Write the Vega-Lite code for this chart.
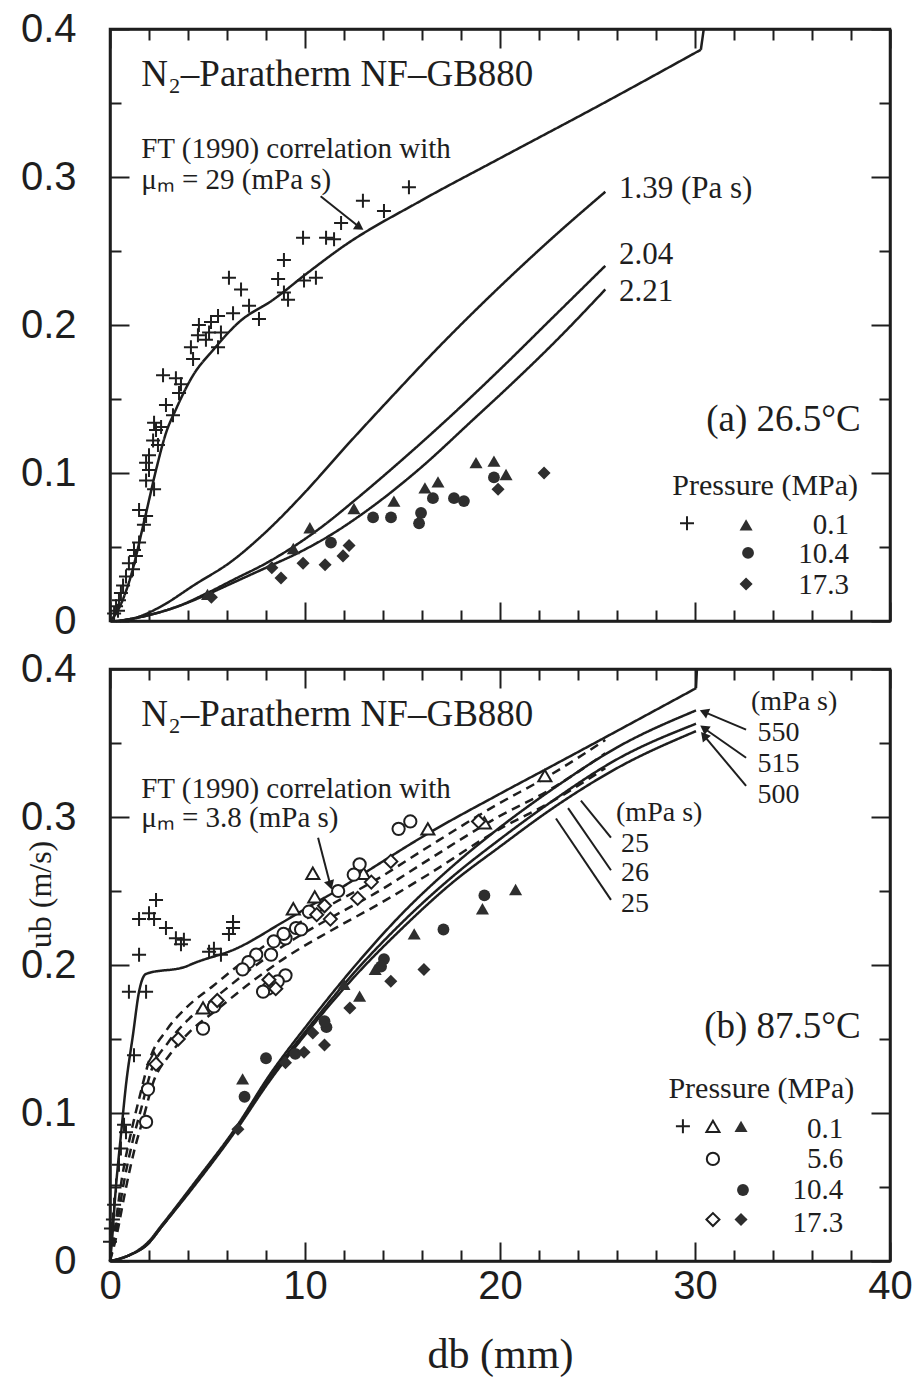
{
"$schema": "https://vega.github.io/schema/vega-lite/v6.json",
"background": "white",
"padding": {"left": 19, "top": 7, "right": 4, "bottom": 2},
"bounds": "flush",
"spacing": 48,
"config": {"view": {"stroke": "#1e1e1e", "strokeWidth": 2.5}, "axis": {"grid": false}},
"datasets": {
"curves": [
{"p":"a","c":"ft29","s":"solid","x":0,"y":0},{"p":"a","c":"ft29","s":"solid","x":0.31,"y":0.005},{"p":"a","c":"ft29","s":"solid","x":0.97,"y":0.026},{"p":"a","c":"ft29","s":"solid","x":1.85,"y":0.073},{"p":"a","c":"ft29","s":"solid","x":2.36,"y":0.102},{"p":"a","c":"ft29","s":"solid","x":2.87,"y":0.127},{"p":"a","c":"ft29","s":"solid","x":3.38,"y":0.143},{"p":"a","c":"ft29","s":"solid","x":4.26,"y":0.166},{"p":"a","c":"ft29","s":"solid","x":5.28,"y":0.183},{"p":"a","c":"ft29","s":"solid","x":6.62,"y":0.202},{"p":"a","c":"ft29","s":"solid","x":8.36,"y":0.217},{"p":"a","c":"ft29","s":"solid","x":10.21,"y":0.236},{"p":"a","c":"ft29","s":"solid","x":11.95,"y":0.253},{"p":"a","c":"ft29","s":"solid","x":15.95,"y":0.284},{"p":"a","c":"ft29","s":"solid","x":20.05,"y":0.313},{"p":"a","c":"ft29","s":"solid","x":25.18,"y":0.349},{"p":"a","c":"ft29","s":"solid","x":30.3,"y":0.386},
{"p":"a","c":"ft29v","s":"solid","x":30.3,"y":0.386},{"p":"a","c":"ft29v","s":"solid","x":30.45,"y":0.4},
{"p":"a","c":"v139","s":"solid","x":0.3,"y":0},{"p":"a","c":"v139","s":"solid","x":1.5,"y":0.003},{"p":"a","c":"v139","s":"solid","x":2.5,"y":0.009},{"p":"a","c":"v139","s":"solid","x":4.4,"y":0.025},{"p":"a","c":"v139","s":"solid","x":6.2,"y":0.04},{"p":"a","c":"v139","s":"solid","x":7.9,"y":0.059},{"p":"a","c":"v139","s":"solid","x":10,"y":0.087},{"p":"a","c":"v139","s":"solid","x":12.1,"y":0.118},{"p":"a","c":"v139","s":"solid","x":14.2,"y":0.148},{"p":"a","c":"v139","s":"solid","x":17,"y":0.187},{"p":"a","c":"v139","s":"solid","x":20,"y":0.226},{"p":"a","c":"v139","s":"solid","x":22.7,"y":0.259},{"p":"a","c":"v139","s":"solid","x":25.4,"y":0.29},
{"p":"a","c":"v204","s":"solid","x":0.5,"y":0},{"p":"a","c":"v204","s":"solid","x":2,"y":0.004},{"p":"a","c":"v204","s":"solid","x":3.5,"y":0.01},{"p":"a","c":"v204","s":"solid","x":5,"y":0.019},{"p":"a","c":"v204","s":"solid","x":6.5,"y":0.029},{"p":"a","c":"v204","s":"solid","x":8,"y":0.039},{"p":"a","c":"v204","s":"solid","x":9.5,"y":0.051},{"p":"a","c":"v204","s":"solid","x":11,"y":0.065},{"p":"a","c":"v204","s":"solid","x":12.5,"y":0.081},{"p":"a","c":"v204","s":"solid","x":14.9,"y":0.108},{"p":"a","c":"v204","s":"solid","x":17.6,"y":0.14},{"p":"a","c":"v204","s":"solid","x":20,"y":0.17},{"p":"a","c":"v204","s":"solid","x":22.7,"y":0.205},{"p":"a","c":"v204","s":"solid","x":25.4,"y":0.24},
{"p":"a","c":"v221","s":"solid","x":0.5,"y":0},{"p":"a","c":"v221","s":"solid","x":2,"y":0.004},{"p":"a","c":"v221","s":"solid","x":3.5,"y":0.01},{"p":"a","c":"v221","s":"solid","x":5,"y":0.018},{"p":"a","c":"v221","s":"solid","x":6.5,"y":0.027},{"p":"a","c":"v221","s":"solid","x":8,"y":0.036},{"p":"a","c":"v221","s":"solid","x":9.8,"y":0.047},{"p":"a","c":"v221","s":"solid","x":11.3,"y":0.058},{"p":"a","c":"v221","s":"solid","x":12.9,"y":0.072},{"p":"a","c":"v221","s":"solid","x":15.8,"y":0.102},{"p":"a","c":"v221","s":"solid","x":18.7,"y":0.137},{"p":"a","c":"v221","s":"solid","x":20.5,"y":0.159},{"p":"a","c":"v221","s":"solid","x":23,"y":0.191},{"p":"a","c":"v221","s":"solid","x":25.4,"y":0.224},
{"p":"b","c":"ft38","s":"solid","x":0,"y":0},{"p":"b","c":"ft38","s":"solid","x":0.05,"y":0.006},{"p":"b","c":"ft38","s":"solid","x":0.31,"y":0.051},{"p":"b","c":"ft38","s":"solid","x":0.56,"y":0.085},{"p":"b","c":"ft38","s":"solid","x":0.82,"y":0.119},{"p":"b","c":"ft38","s":"solid","x":1.18,"y":0.153},{"p":"b","c":"ft38","s":"solid","x":1.49,"y":0.182},{"p":"b","c":"ft38","s":"solid","x":1.85,"y":0.194},{"p":"b","c":"ft38","s":"solid","x":3.9,"y":0.199},{"p":"b","c":"ft38","s":"solid","x":4.26,"y":0.201},{"p":"b","c":"ft38","s":"solid","x":6.46,"y":0.211},{"p":"b","c":"ft38","s":"solid","x":8.87,"y":0.229},{"p":"b","c":"ft38","s":"solid","x":10.41,"y":0.241},{"p":"b","c":"ft38","s":"solid","x":11.59,"y":0.25},{"p":"b","c":"ft38","s":"solid","x":13.03,"y":0.262},{"p":"b","c":"ft38","s":"solid","x":16.2,"y":0.288},{"p":"b","c":"ft38","s":"solid","x":19.9,"y":0.315},{"p":"b","c":"ft38","s":"solid","x":22.6,"y":0.334},{"p":"b","c":"ft38","s":"solid","x":30.05,"y":0.387},
{"p":"b","c":"ft38v","s":"solid","x":30.05,"y":0.387},{"p":"b","c":"ft38v","s":"solid","x":30.1,"y":0.4},
{"p":"b","c":"d1","s":"dashed","x":0,"y":0},{"p":"b","c":"d1","s":"dashed","x":0.25,"y":0.022},{"p":"b","c":"d1","s":"dashed","x":0.6,"y":0.055},{"p":"b","c":"d1","s":"dashed","x":1.1,"y":0.088},{"p":"b","c":"d1","s":"dashed","x":1.5,"y":0.11},{"p":"b","c":"d1","s":"dashed","x":2,"y":0.135},{"p":"b","c":"d1","s":"dashed","x":2.9,"y":0.156},{"p":"b","c":"d1","s":"dashed","x":3.9,"y":0.171},{"p":"b","c":"d1","s":"dashed","x":5.3,"y":0.186},{"p":"b","c":"d1","s":"dashed","x":7,"y":0.204},{"p":"b","c":"d1","s":"dashed","x":8.8,"y":0.221},{"p":"b","c":"d1","s":"dashed","x":11.1,"y":0.239},{"p":"b","c":"d1","s":"dashed","x":13.7,"y":0.258},{"p":"b","c":"d1","s":"dashed","x":16.1,"y":0.278},{"p":"b","c":"d1","s":"dashed","x":19.8,"y":0.308},{"p":"b","c":"d1","s":"dashed","x":22.4,"y":0.327},{"p":"b","c":"d1","s":"dashed","x":25.4,"y":0.352},
{"p":"b","c":"d2","s":"dashed","x":0,"y":0},{"p":"b","c":"d2","s":"dashed","x":0.3,"y":0.02},{"p":"b","c":"d2","s":"dashed","x":0.67,"y":0.05},{"p":"b","c":"d2","s":"dashed","x":1.18,"y":0.082},{"p":"b","c":"d2","s":"dashed","x":1.6,"y":0.103},{"p":"b","c":"d2","s":"dashed","x":2.1,"y":0.128},{"p":"b","c":"d2","s":"dashed","x":3,"y":0.148},{"p":"b","c":"d2","s":"dashed","x":4,"y":0.163},{"p":"b","c":"d2","s":"dashed","x":5.4,"y":0.178},{"p":"b","c":"d2","s":"dashed","x":7.1,"y":0.196},{"p":"b","c":"d2","s":"dashed","x":8.9,"y":0.213},{"p":"b","c":"d2","s":"dashed","x":11.2,"y":0.231},{"p":"b","c":"d2","s":"dashed","x":13.8,"y":0.25},{"p":"b","c":"d2","s":"dashed","x":16.2,"y":0.27},{"p":"b","c":"d2","s":"dashed","x":19.9,"y":0.3},{"p":"b","c":"d2","s":"dashed","x":22.5,"y":0.318},{"p":"b","c":"d2","s":"dashed","x":25.4,"y":0.343},
{"p":"b","c":"d3","s":"dashed","x":0,"y":0},{"p":"b","c":"d3","s":"dashed","x":0.35,"y":0.018},{"p":"b","c":"d3","s":"dashed","x":0.75,"y":0.045},{"p":"b","c":"d3","s":"dashed","x":1.25,"y":0.075},{"p":"b","c":"d3","s":"dashed","x":1.7,"y":0.096},{"p":"b","c":"d3","s":"dashed","x":2.2,"y":0.12},{"p":"b","c":"d3","s":"dashed","x":3.1,"y":0.14},{"p":"b","c":"d3","s":"dashed","x":4.1,"y":0.155},{"p":"b","c":"d3","s":"dashed","x":5.5,"y":0.17},{"p":"b","c":"d3","s":"dashed","x":7.2,"y":0.188},{"p":"b","c":"d3","s":"dashed","x":9,"y":0.205},{"p":"b","c":"d3","s":"dashed","x":11.3,"y":0.223},{"p":"b","c":"d3","s":"dashed","x":13.9,"y":0.242},{"p":"b","c":"d3","s":"dashed","x":16.3,"y":0.261},{"p":"b","c":"d3","s":"dashed","x":20,"y":0.292},{"p":"b","c":"d3","s":"dashed","x":22.6,"y":0.31},{"p":"b","c":"d3","s":"dashed","x":25.4,"y":0.333},
{"p":"b","c":"s500","s":"solid","x":0,"y":0},{"p":"b","c":"s500","s":"solid","x":1,"y":0.004},{"p":"b","c":"s500","s":"solid","x":1.9,"y":0.011},{"p":"b","c":"s500","s":"solid","x":2.7,"y":0.024},{"p":"b","c":"s500","s":"solid","x":4.4,"y":0.052},{"p":"b","c":"s500","s":"solid","x":6.5,"y":0.089},{"p":"b","c":"s500","s":"solid","x":8.15,"y":0.121},{"p":"b","c":"s500","s":"solid","x":10.2,"y":0.156},{"p":"b","c":"s500","s":"solid","x":12.6,"y":0.193},{"p":"b","c":"s500","s":"solid","x":15,"y":0.225},{"p":"b","c":"s500","s":"solid","x":17.5,"y":0.255},{"p":"b","c":"s500","s":"solid","x":20,"y":0.28},{"p":"b","c":"s500","s":"solid","x":22.6,"y":0.305},{"p":"b","c":"s500","s":"solid","x":26,"y":0.333},{"p":"b","c":"s500","s":"solid","x":30.05,"y":0.358},
{"p":"b","c":"s515","s":"solid","x":0,"y":0},{"p":"b","c":"s515","s":"solid","x":1,"y":0.004},{"p":"b","c":"s515","s":"solid","x":1.9,"y":0.011},{"p":"b","c":"s515","s":"solid","x":2.7,"y":0.024},{"p":"b","c":"s515","s":"solid","x":4.4,"y":0.053},{"p":"b","c":"s515","s":"solid","x":6.5,"y":0.09},{"p":"b","c":"s515","s":"solid","x":8.15,"y":0.123},{"p":"b","c":"s515","s":"solid","x":10.2,"y":0.158},{"p":"b","c":"s515","s":"solid","x":12.6,"y":0.196},{"p":"b","c":"s515","s":"solid","x":15,"y":0.229},{"p":"b","c":"s515","s":"solid","x":17.5,"y":0.259},{"p":"b","c":"s515","s":"solid","x":20,"y":0.285},{"p":"b","c":"s515","s":"solid","x":22.6,"y":0.31},{"p":"b","c":"s515","s":"solid","x":26,"y":0.339},{"p":"b","c":"s515","s":"solid","x":30.05,"y":0.363},
{"p":"b","c":"s550","s":"solid","x":0,"y":0},{"p":"b","c":"s550","s":"solid","x":1,"y":0.004},{"p":"b","c":"s550","s":"solid","x":1.9,"y":0.012},{"p":"b","c":"s550","s":"solid","x":2.7,"y":0.025},{"p":"b","c":"s550","s":"solid","x":4.4,"y":0.054},{"p":"b","c":"s550","s":"solid","x":6.5,"y":0.091},{"p":"b","c":"s550","s":"solid","x":8.15,"y":0.125},{"p":"b","c":"s550","s":"solid","x":10.2,"y":0.161},{"p":"b","c":"s550","s":"solid","x":12.6,"y":0.2},{"p":"b","c":"s550","s":"solid","x":15,"y":0.235},{"p":"b","c":"s550","s":"solid","x":17.5,"y":0.266},{"p":"b","c":"s550","s":"solid","x":20,"y":0.293},{"p":"b","c":"s550","s":"solid","x":22.6,"y":0.318},{"p":"b","c":"s550","s":"solid","x":26,"y":0.347},{"p":"b","c":"s550","s":"solid","x":30.05,"y":0.372}
],
"points": [
{"p":"a","k":"plus","x":15.33,"y":0.293},{"p":"a","k":"plus","x":14.05,"y":0.277},{"p":"a","k":"plus","x":12.97,"y":0.284},{"p":"a","k":"plus","x":11.85,"y":0.269},{"p":"a","k":"plus","x":11.08,"y":0.259},{"p":"a","k":"plus","x":11.49,"y":0.258},{"p":"a","k":"plus","x":9.9,"y":0.259},{"p":"a","k":"plus","x":8.92,"y":0.244},{"p":"a","k":"plus","x":8.62,"y":0.231},{"p":"a","k":"plus","x":9.95,"y":0.23},{"p":"a","k":"plus","x":10.56,"y":0.232},{"p":"a","k":"plus","x":9.13,"y":0.217},{"p":"a","k":"plus","x":8.92,"y":0.222},{"p":"a","k":"plus","x":7.64,"y":0.204},{"p":"a","k":"plus","x":7.13,"y":0.213},{"p":"a","k":"plus","x":6.31,"y":0.208},{"p":"a","k":"plus","x":6.1,"y":0.232},{"p":"a","k":"plus","x":6.72,"y":0.224},{"p":"a","k":"plus","x":5.54,"y":0.206},{"p":"a","k":"plus","x":5.18,"y":0.202},{"p":"a","k":"plus","x":4.56,"y":0.2},{"p":"a","k":"plus","x":5.08,"y":0.195},{"p":"a","k":"plus","x":5.69,"y":0.195},{"p":"a","k":"plus","x":4.92,"y":0.19},{"p":"a","k":"plus","x":4.51,"y":0.193},{"p":"a","k":"plus","x":4.15,"y":0.185},{"p":"a","k":"plus","x":5.54,"y":0.185},{"p":"a","k":"plus","x":4.26,"y":0.177},{"p":"a","k":"plus","x":2.72,"y":0.166},{"p":"a","k":"plus","x":3.38,"y":0.164},{"p":"a","k":"plus","x":3.64,"y":0.16},{"p":"a","k":"plus","x":3.54,"y":0.154},{"p":"a","k":"plus","x":2.87,"y":0.146},{"p":"a","k":"plus","x":3.23,"y":0.139},{"p":"a","k":"plus","x":2.26,"y":0.134},{"p":"a","k":"plus","x":2.36,"y":0.129},{"p":"a","k":"plus","x":2.62,"y":0.131},{"p":"a","k":"plus","x":2.21,"y":0.122},{"p":"a","k":"plus","x":2.46,"y":0.119},{"p":"a","k":"plus","x":2.0,"y":0.112},{"p":"a","k":"plus","x":1.85,"y":0.107},{"p":"a","k":"plus","x":2.0,"y":0.102},{"p":"a","k":"plus","x":1.85,"y":0.095},{"p":"a","k":"plus","x":2.26,"y":0.089},{"p":"a","k":"plus","x":1.49,"y":0.075},{"p":"a","k":"plus","x":1.85,"y":0.071},{"p":"a","k":"plus","x":1.74,"y":0.065},{"p":"a","k":"plus","x":1.49,"y":0.053},{"p":"a","k":"plus","x":1.23,"y":0.048},{"p":"a","k":"plus","x":1.33,"y":0.044},{"p":"a","k":"plus","x":0.97,"y":0.039},{"p":"a","k":"plus","x":1.18,"y":0.035},{"p":"a","k":"plus","x":0.82,"y":0.03},{"p":"a","k":"plus","x":0.67,"y":0.024},{"p":"a","k":"plus","x":0.56,"y":0.019},{"p":"a","k":"plus","x":0.46,"y":0.014},{"p":"a","k":"plus","x":0.31,"y":0.01},{"p":"a","k":"plus","x":0.41,"y":0.007},{"p":"a","k":"plus","x":0.21,"y":0.005},
{"p":"a","k":"tri","x":18.77,"y":0.107},{"p":"a","k":"tri","x":19.69,"y":0.108},{"p":"a","k":"tri","x":20.31,"y":0.099},{"p":"a","k":"tri","x":16.82,"y":0.094},{"p":"a","k":"tri","x":16.15,"y":0.09},{"p":"a","k":"tri","x":14.56,"y":0.081},{"p":"a","k":"tri","x":12.51,"y":0.076},{"p":"a","k":"tri","x":10.25,"y":0.063},{"p":"a","k":"tri","x":9.4,"y":0.049},{"p":"a","k":"tri","x":5.0,"y":0.018},
{"p":"a","k":"circ","x":11.33,"y":0.053},{"p":"a","k":"circ","x":13.49,"y":0.07},{"p":"a","k":"circ","x":14.41,"y":0.07},{"p":"a","k":"circ","x":15.95,"y":0.073},{"p":"a","k":"circ","x":15.85,"y":0.066},{"p":"a","k":"circ","x":16.56,"y":0.083},{"p":"a","k":"circ","x":17.64,"y":0.083},{"p":"a","k":"circ","x":18.15,"y":0.081},{"p":"a","k":"circ","x":19.69,"y":0.097},
{"p":"a","k":"diam","x":8.77,"y":0.029},{"p":"a","k":"diam","x":9.9,"y":0.039},{"p":"a","k":"diam","x":11.03,"y":0.038},{"p":"a","k":"diam","x":11.95,"y":0.044},{"p":"a","k":"diam","x":12.26,"y":0.051},{"p":"a","k":"diam","x":19.9,"y":0.089},{"p":"a","k":"diam","x":22.26,"y":0.1},{"p":"a","k":"diam","x":5.2,"y":0.016},{"p":"a","k":"diam","x":8.3,"y":0.036},
{"p":"a","k":"plus","x":29.59,"y":0.066},{"p":"a","k":"tri","x":32.62,"y":0.065},{"p":"a","k":"circ","x":32.72,"y":0.046},{"p":"a","k":"diam","x":32.62,"y":0.025},
{"p":"b","k":"plus","x":2.36,"y":0.244},{"p":"b","k":"plus","x":2.0,"y":0.235},{"p":"b","k":"plus","x":1.49,"y":0.231},{"p":"b","k":"plus","x":2.26,"y":0.231},{"p":"b","k":"plus","x":2.87,"y":0.225},{"p":"b","k":"plus","x":3.38,"y":0.218},{"p":"b","k":"plus","x":3.79,"y":0.217},{"p":"b","k":"plus","x":3.64,"y":0.214},{"p":"b","k":"plus","x":1.49,"y":0.207},{"p":"b","k":"plus","x":6.31,"y":0.229},{"p":"b","k":"plus","x":6.31,"y":0.225},{"p":"b","k":"plus","x":6.1,"y":0.221},{"p":"b","k":"plus","x":5.08,"y":0.209},{"p":"b","k":"plus","x":5.33,"y":0.211},{"p":"b","k":"plus","x":5.69,"y":0.207},{"p":"b","k":"plus","x":0.97,"y":0.182},{"p":"b","k":"plus","x":1.85,"y":0.182},{"p":"b","k":"plus","x":1.23,"y":0.139},{"p":"b","k":"plus","x":0.72,"y":0.092},{"p":"b","k":"plus","x":0.82,"y":0.087},{"p":"b","k":"plus","x":0.56,"y":0.076},{"p":"b","k":"plus","x":0.46,"y":0.065},{"p":"b","k":"plus","x":0.31,"y":0.051},{"p":"b","k":"plus","x":0.21,"y":0.038},{"p":"b","k":"plus","x":0.15,"y":0.028},{"p":"b","k":"plus","x":0.05,"y":0.022},{"p":"b","k":"plus","x":0.0,"y":0.013},
{"p":"b","k":"otri","x":10.4,"y":0.262},{"p":"b","k":"otri","x":10.5,"y":0.246},{"p":"b","k":"otri","x":9.4,"y":0.238},{"p":"b","k":"otri","x":16.3,"y":0.292},{"p":"b","k":"otri","x":19.2,"y":0.296},{"p":"b","k":"otri","x":22.3,"y":0.328},{"p":"b","k":"otri","x":2.26,"y":0.137},{"p":"b","k":"otri","x":4.77,"y":0.171},{"p":"b","k":"otri","x":13.0,"y":0.262},
{"p":"b","k":"ocirc","x":14.8,"y":0.292},{"p":"b","k":"ocirc","x":15.4,"y":0.297},{"p":"b","k":"ocirc","x":12.8,"y":0.268},{"p":"b","k":"ocirc","x":12.5,"y":0.261},{"p":"b","k":"ocirc","x":9.54,"y":0.225},{"p":"b","k":"ocirc","x":9.0,"y":0.218},{"p":"b","k":"ocirc","x":7.5,"y":0.207},{"p":"b","k":"ocirc","x":7.1,"y":0.202},{"p":"b","k":"ocirc","x":10.2,"y":0.236},{"p":"b","k":"ocirc","x":9.8,"y":0.224},{"p":"b","k":"ocirc","x":8.9,"y":0.221},{"p":"b","k":"ocirc","x":8.26,"y":0.207},{"p":"b","k":"ocirc","x":8.4,"y":0.216},{"p":"b","k":"ocirc","x":9.0,"y":0.193},{"p":"b","k":"ocirc","x":8.6,"y":0.189},{"p":"b","k":"ocirc","x":8.1,"y":0.184},{"p":"b","k":"ocirc","x":7.85,"y":0.182},{"p":"b","k":"ocirc","x":5.33,"y":0.172},{"p":"b","k":"ocirc","x":4.77,"y":0.157},{"p":"b","k":"ocirc","x":1.95,"y":0.116},{"p":"b","k":"ocirc","x":1.85,"y":0.094},{"p":"b","k":"ocirc","x":6.8,"y":0.197},{"p":"b","k":"ocirc","x":11.7,"y":0.25},
{"p":"b","k":"odiam","x":10.6,"y":0.234},{"p":"b","k":"odiam","x":11.3,"y":0.231},{"p":"b","k":"odiam","x":12.7,"y":0.245},{"p":"b","k":"odiam","x":13.4,"y":0.256},{"p":"b","k":"odiam","x":14.4,"y":0.27},{"p":"b","k":"odiam","x":18.9,"y":0.297},{"p":"b","k":"odiam","x":2.36,"y":0.133},{"p":"b","k":"odiam","x":8.15,"y":0.19},{"p":"b","k":"odiam","x":8.5,"y":0.184},{"p":"b","k":"odiam","x":5.5,"y":0.176},{"p":"b","k":"odiam","x":3.5,"y":0.15},{"p":"b","k":"odiam","x":11.0,"y":0.24},
{"p":"b","k":"tri","x":20.8,"y":0.251},{"p":"b","k":"tri","x":15.6,"y":0.221},{"p":"b","k":"tri","x":13.6,"y":0.197},{"p":"b","k":"tri","x":12.8,"y":0.179},{"p":"b","k":"tri","x":12.0,"y":0.187},{"p":"b","k":"tri","x":6.8,"y":0.123},{"p":"b","k":"tri","x":19.1,"y":0.238},
{"p":"b","k":"circ","x":6.9,"y":0.111},{"p":"b","k":"circ","x":8.0,"y":0.137},{"p":"b","k":"circ","x":11.1,"y":0.158},{"p":"b","k":"circ","x":11.0,"y":0.162},{"p":"b","k":"circ","x":14.05,"y":0.204},{"p":"b","k":"circ","x":17.1,"y":0.224},{"p":"b","k":"circ","x":19.2,"y":0.247},{"p":"b","k":"circ","x":9.5,"y":0.14},{"p":"b","k":"circ","x":13.9,"y":0.199},
{"p":"b","k":"diam","x":6.56,"y":0.089},{"p":"b","k":"diam","x":9.95,"y":0.141},{"p":"b","k":"diam","x":10.4,"y":0.154},{"p":"b","k":"diam","x":12.3,"y":0.171},{"p":"b","k":"diam","x":14.4,"y":0.189},{"p":"b","k":"diam","x":16.1,"y":0.197},{"p":"b","k":"diam","x":9.0,"y":0.134},{"p":"b","k":"diam","x":11.0,"y":0.146},
{"p":"b","k":"plus","x":29.38,"y":0.091},{"p":"b","k":"otri","x":30.92,"y":0.091},{"p":"b","k":"tri","x":32.36,"y":0.091},{"p":"b","k":"ocirc","x":30.92,"y":0.069},{"p":"b","k":"circ","x":32.46,"y":0.048},{"p":"b","k":"odiam","x":30.92,"y":0.028},{"p":"b","k":"diam","x":32.36,"y":0.028}
],
"notes": [
{"p":"a","g":"head","x":1.6,"y":0.369,"t":"N₂–Paratherm NF–GB880"},
{"p":"a","g":"ft","x":1.6,"y":0.319,"t":"FT (1990) correlation with"},
{"p":"a","g":"ft","x":1.6,"y":0.298,"t":"μₘ = 29 (mPa s)"},
{"p":"a","g":"visc","x":26.1,"y":0.292,"t":"1.39 (Pa s)"},
{"p":"a","g":"visc","x":26.1,"y":0.247,"t":"2.04"},
{"p":"a","g":"visc","x":26.1,"y":0.222,"t":"2.21"},
{"p":"a","g":"cond","x":38.5,"y":0.136,"t":"(a) 26.5°C"},
{"p":"a","g":"phead","x":33.6,"y":0.091,"t":"Pressure (MPa)"},
{"p":"a","g":"pval","x":37.9,"y":0.065,"t":"0.1"},
{"p":"a","g":"pval","x":37.9,"y":0.045,"t":"10.4"},
{"p":"a","g":"pval","x":37.9,"y":0.024,"t":"17.3"},
{"p":"b","g":"head","x":1.6,"y":0.369,"t":"N₂–Paratherm NF–GB880"},
{"p":"b","g":"ft","x":1.6,"y":0.319,"t":"FT (1990) correlation with"},
{"p":"b","g":"ft","x":1.6,"y":0.299,"t":"μₘ = 3.8 (mPa s)"},
{"p":"b","g":"visc","x":32.87,"y":0.378,"t":"(mPa s)"},
{"p":"b","g":"visc","x":33.2,"y":0.357,"t":"550"},
{"p":"b","g":"visc","x":33.2,"y":0.336,"t":"515"},
{"p":"b","g":"visc","x":33.2,"y":0.315,"t":"500"},
{"p":"b","g":"visc","x":25.95,"y":0.303,"t":"(mPa s)"},
{"p":"b","g":"visc","x":26.2,"y":0.282,"t":"25"},
{"p":"b","g":"visc","x":26.2,"y":0.262,"t":"26"},
{"p":"b","g":"visc","x":26.2,"y":0.241,"t":"25"},
{"p":"b","g":"cond","x":38.5,"y":0.158,"t":"(b) 87.5°C"},
{"p":"b","g":"phead","x":33.4,"y":0.116,"t":"Pressure (MPa)"},
{"p":"b","g":"pval","x":37.6,"y":0.089,"t":"0.1"},
{"p":"b","g":"pval","x":37.6,"y":0.069,"t":"5.6"},
{"p":"b","g":"pval","x":37.6,"y":0.048,"t":"10.4"},
{"p":"b","g":"pval","x":37.6,"y":0.026,"t":"17.3"}
],
"leaders": [
{"p":"a","x":10.8,"y":0.287,"x2":12.8,"y2":0.266},
{"p":"b","x":10.67,"y":0.286,"x2":11.3,"y2":0.254},
{"p":"b","x":30.46,"y":0.371,"x2":32.62,"y2":0.359},
{"p":"b","x":30.46,"y":0.36,"x2":32.62,"y2":0.34},
{"p":"b","x":30.46,"y":0.355,"x2":32.62,"y2":0.321},
{"p":"b","x":24.15,"y":0.311,"x2":25.69,"y2":0.286},
{"p":"b","x":23.49,"y":0.306,"x2":25.69,"y2":0.264},
{"p":"b","x":22.87,"y":0.299,"x2":25.69,"y2":0.244}
],
"tips": [
{"p":"a","x":12.8,"y":0.266,"ang":34},
{"p":"b","x":11.3,"y":0.254,"ang":73},
{"p":"b","x":30.46,"y":0.371,"ang":203},
{"p":"b","x":30.46,"y":0.36,"ang":215},
{"p":"b","x":30.46,"y":0.355,"ang":230}
]
},
"vconcat": [
{
"width": 780, "height": 592,
"resolve": {"axis": {"x": "independent", "y": "independent"}},
"layer": [
{"data": {"name": "curves"}, "transform": [{"filter": "datum.p == 'a'"}],
 "mark": {"type": "line", "color": "#1e1e1e", "strokeWidth": 2.5, "clip": false, "interpolate": "monotone"},
 "encoding": {
  "x": {"field": "x", "type": "quantitative", "scale": {"domain": [0, 40], "nice": false, "zero": false},
   "axis": {"orient": "bottom", "values": [0,2,4,6,8,10,12,14,16,18,20,22,24,26,28,30,32,34,36,38,40], "labels": false, "title": null, "grid": false, "domainColor": "#1e1e1e", "domainWidth": 2.5, "tickColor": "#1e1e1e", "tickWidth": 2, "tickSize": {"condition": {"test": "round(datum.value) % 10 == 0", "value": -19}, "value": -11}}},
  "y": {"field": "y", "type": "quantitative", "scale": {"domain": [0, 0.4], "nice": false, "zero": false},
   "axis": {"orient": "left", "values": [0,0.05,0.1,0.15,0.2,0.25,0.3,0.35,0.4], "labelExpr": "round(datum.value*20) % 2 == 0 ? (datum.value == 0 ? '0' : format(datum.value, '.1f')) : ''", "labelFont": "Liberation Sans", "labelFontSize": 40, "labelColor": "#1e1e1e", "labelPadding": 53, "labelFlush": false, "labelOverlap": false, "title": null, "grid": false, "domainColor": "#1e1e1e", "domainWidth": 2.5, "tickColor": "#1e1e1e", "tickWidth": 2, "tickSize": {"condition": {"test": "round(datum.value*20) % 2 == 0", "value": -19}, "value": -11}}},
  "detail": {"field": "c", "type": "nominal"},
  "strokeDash": {"field": "s", "type": "nominal", "scale": {"domain": ["solid", "dashed"], "range": [[1, 0], [9, 6]]}, "legend": null}
 }},
{"data": {"name": "points"}, "transform": [{"filter": "datum.p == 'a' && datum.k == 'plus'"}],
 "mark": {"type": "point", "shape": "M-1,0H1M0,-1V1", "size": 196, "filled": false, "color": "#1e1e1e", "strokeWidth": 2, "opacity": 1, "clip": false},
 "encoding": {
  "x": {"field": "x", "type": "quantitative", "scale": {"domain": [0, 40], "nice": false, "zero": false},
   "axis": {"orient": "top", "values": [0,2,4,6,8,10,12,14,16,18,20,22,24,26,28,30,32,34,36,38,40], "labels": false, "title": null, "grid": false, "domainColor": "#1e1e1e", "domainWidth": 2.5, "tickColor": "#1e1e1e", "tickWidth": 2, "tickSize": {"condition": {"test": "round(datum.value) % 10 == 0", "value": -19}, "value": -11}}},
  "y": {"field": "y", "type": "quantitative", "scale": {"domain": [0, 0.4], "nice": false, "zero": false},
   "axis": {"orient": "right", "values": [0,0.05,0.1,0.15,0.2,0.25,0.3,0.35,0.4], "labels": false, "title": null, "grid": false, "domainColor": "#1e1e1e", "domainWidth": 2.5, "tickColor": "#1e1e1e", "tickWidth": 2, "tickSize": {"condition": {"test": "round(datum.value*20) % 2 == 0", "value": -19}, "value": -11}}}
 }},
{"data": {"name": "points"}, "transform": [{"filter": "datum.p == 'a' && datum.k == 'tri'"}],
 "mark": {"type": "point", "shape": "triangle-up", "size": 170, "filled": true, "color": "#2e2e2e", "opacity": 1, "clip": false},
 "encoding": {"x": {"field": "x", "type": "quantitative", "axis": null}, "y": {"field": "y", "type": "quantitative", "axis": null}}},
{"data": {"name": "points"}, "transform": [{"filter": "datum.p == 'a' && datum.k == 'circ'"}],
 "mark": {"type": "point", "shape": "circle", "size": 140, "filled": true, "color": "#2e2e2e", "opacity": 1, "clip": false},
 "encoding": {"x": {"field": "x", "type": "quantitative", "axis": null}, "y": {"field": "y", "type": "quantitative", "axis": null}}},
{"data": {"name": "points"}, "transform": [{"filter": "datum.p == 'a' && datum.k == 'diam'"}],
 "mark": {"type": "point", "shape": "diamond", "size": 170, "filled": true, "color": "#2e2e2e", "opacity": 1, "clip": false},
 "encoding": {"x": {"field": "x", "type": "quantitative", "axis": null}, "y": {"field": "y", "type": "quantitative", "axis": null}}},
{"data": {"name": "leaders"}, "transform": [{"filter": "datum.p == 'a'"}],
 "mark": {"type": "rule", "color": "#1e1e1e", "strokeWidth": 2},
 "encoding": {"x": {"field": "x", "type": "quantitative", "axis": null}, "y": {"field": "y", "type": "quantitative", "axis": null}, "x2": {"field": "x2"}, "y2": {"field": "y2"}}},
{"data": {"name": "tips"}, "transform": [{"filter": "datum.p == 'a'"}],
 "mark": {"type": "point", "shape": "triangle-right", "size": 110, "filled": true, "color": "#1e1e1e", "opacity": 1},
 "encoding": {"x": {"field": "x", "type": "quantitative", "axis": null}, "y": {"field": "y", "type": "quantitative", "axis": null}, "angle": {"field": "ang", "type": "quantitative", "scale": null}}},
{"data": {"name": "notes"}, "transform": [{"filter": "datum.p == 'a' && datum.g == 'head'"}],
 "mark": {"type": "text", "font": "Liberation Serif", "fontSize": 37, "align": "left", "baseline": "middle", "color": "#1e1e1e"},
 "encoding": {"x": {"field": "x", "type": "quantitative", "axis": null}, "y": {"field": "y", "type": "quantitative", "axis": null}, "text": {"field": "t"}}},
{"data": {"name": "notes"}, "transform": [{"filter": "datum.p == 'a' && datum.g == 'ft'"}],
 "mark": {"type": "text", "font": "Liberation Serif", "fontSize": 29, "align": "left", "baseline": "middle", "color": "#1e1e1e"},
 "encoding": {"x": {"field": "x", "type": "quantitative", "axis": null}, "y": {"field": "y", "type": "quantitative", "axis": null}, "text": {"field": "t"}}},
{"data": {"name": "notes"}, "transform": [{"filter": "datum.p == 'a' && datum.g == 'visc'"}],
 "mark": {"type": "text", "font": "Liberation Serif", "fontSize": 31, "align": "left", "baseline": "middle", "color": "#1e1e1e"},
 "encoding": {"x": {"field": "x", "type": "quantitative", "axis": null}, "y": {"field": "y", "type": "quantitative", "axis": null}, "text": {"field": "t"}}},
{"data": {"name": "notes"}, "transform": [{"filter": "datum.p == 'a' && datum.g == 'cond'"}],
 "mark": {"type": "text", "font": "Liberation Serif", "fontSize": 37, "align": "right", "baseline": "middle", "color": "#1e1e1e"},
 "encoding": {"x": {"field": "x", "type": "quantitative", "axis": null}, "y": {"field": "y", "type": "quantitative", "axis": null}, "text": {"field": "t"}}},
{"data": {"name": "notes"}, "transform": [{"filter": "datum.p == 'a' && datum.g == 'phead'"}],
 "mark": {"type": "text", "font": "Liberation Serif", "fontSize": 30, "align": "center", "baseline": "middle", "color": "#1e1e1e"},
 "encoding": {"x": {"field": "x", "type": "quantitative", "axis": null}, "y": {"field": "y", "type": "quantitative", "axis": null}, "text": {"field": "t"}}},
{"data": {"name": "notes"}, "transform": [{"filter": "datum.p == 'a' && datum.g == 'pval'"}],
 "mark": {"type": "text", "font": "Liberation Serif", "fontSize": 29, "align": "right", "baseline": "middle", "color": "#1e1e1e"},
 "encoding": {"x": {"field": "x", "type": "quantitative", "axis": null}, "y": {"field": "y", "type": "quantitative", "axis": null}, "text": {"field": "t"}}}
]
},
{
"width": 780, "height": 592,
"resolve": {"axis": {"x": "independent", "y": "independent"}},
"layer": [
{"data": {"name": "curves"}, "transform": [{"filter": "datum.p == 'b'"}],
 "mark": {"type": "line", "color": "#1e1e1e", "strokeWidth": 2.5, "clip": false, "interpolate": "monotone"},
 "encoding": {
  "x": {"field": "x", "type": "quantitative", "scale": {"domain": [0, 40], "nice": false, "zero": false},
   "axis": {"orient": "bottom", "values": [0,2,4,6,8,10,12,14,16,18,20,22,24,26,28,30,32,34,36,38,40], "labelExpr": "round(datum.value) % 10 == 0 ? format(datum.value, 'd') : ''", "labelFont": "Liberation Sans", "labelFontSize": 40, "labelColor": "#1e1e1e", "labelPadding": 24, "labelFlush": false, "labelOverlap": false, "title": "db (mm)", "titleFont": "Liberation Serif", "titleFontSize": 42, "titleFontWeight": "normal", "titleColor": "#1e1e1e", "titlePadding": 20, "grid": false, "domainColor": "#1e1e1e", "domainWidth": 2.5, "tickColor": "#1e1e1e", "tickWidth": 2, "tickSize": {"condition": {"test": "round(datum.value) % 10 == 0", "value": -19}, "value": -11}}},
  "y": {"field": "y", "type": "quantitative", "scale": {"domain": [0, 0.4], "nice": false, "zero": false},
   "axis": {"orient": "left", "values": [0,0.05,0.1,0.15,0.2,0.25,0.3,0.35,0.4], "labelExpr": "round(datum.value*20) % 2 == 0 ? (datum.value == 0 ? '0' : format(datum.value, '.1f')) : ''", "labelFont": "Liberation Sans", "labelFontSize": 40, "labelColor": "#1e1e1e", "labelPadding": 53, "labelFlush": false, "labelOverlap": false, "title": "ub (m/s)", "titleFont": "Liberation Serif", "titleFontSize": 32, "titleFontWeight": "normal", "titleColor": "#1e1e1e", "titleAngle": -90, "titleX": -70, "titleY": 225, "titleAlign": "center", "titleBaseline": "middle", "grid": false, "domainColor": "#1e1e1e", "domainWidth": 2.5, "tickColor": "#1e1e1e", "tickWidth": 2, "tickSize": {"condition": {"test": "round(datum.value*20) % 2 == 0", "value": -19}, "value": -11}}},
  "detail": {"field": "c", "type": "nominal"},
  "strokeDash": {"field": "s", "type": "nominal", "scale": {"domain": ["solid", "dashed"], "range": [[1, 0], [9, 6]]}, "legend": null}
 }},
{"data": {"name": "points"}, "transform": [{"filter": "datum.p == 'b' && datum.k == 'plus'"}],
 "mark": {"type": "point", "shape": "M-1,0H1M0,-1V1", "size": 196, "filled": false, "color": "#1e1e1e", "strokeWidth": 2, "opacity": 1, "clip": false},
 "encoding": {
  "x": {"field": "x", "type": "quantitative", "scale": {"domain": [0, 40], "nice": false, "zero": false},
   "axis": {"orient": "top", "values": [0,2,4,6,8,10,12,14,16,18,20,22,24,26,28,30,32,34,36,38,40], "labels": false, "title": null, "grid": false, "domainColor": "#1e1e1e", "domainWidth": 2.5, "tickColor": "#1e1e1e", "tickWidth": 2, "tickSize": {"condition": {"test": "round(datum.value) % 10 == 0", "value": -19}, "value": -11}}},
  "y": {"field": "y", "type": "quantitative", "scale": {"domain": [0, 0.4], "nice": false, "zero": false},
   "axis": {"orient": "right", "values": [0,0.05,0.1,0.15,0.2,0.25,0.3,0.35,0.4], "labels": false, "title": null, "grid": false, "domainColor": "#1e1e1e", "domainWidth": 2.5, "tickColor": "#1e1e1e", "tickWidth": 2, "tickSize": {"condition": {"test": "round(datum.value*20) % 2 == 0", "value": -19}, "value": -11}}}
 }},
{"data": {"name": "points"}, "transform": [{"filter": "datum.p == 'b' && datum.k == 'otri'"}],
 "mark": {"type": "point", "shape": "triangle-up", "size": 170, "filled": false, "color": "#1e1e1e", "fill": "white", "fillOpacity": 1, "strokeWidth": 2, "opacity": 1, "clip": false},
 "encoding": {"x": {"field": "x", "type": "quantitative", "axis": null}, "y": {"field": "y", "type": "quantitative", "axis": null}}},
{"data": {"name": "points"}, "transform": [{"filter": "datum.p == 'b' && datum.k == 'ocirc'"}],
 "mark": {"type": "point", "shape": "circle", "size": 150, "filled": false, "color": "#1e1e1e", "fill": "white", "fillOpacity": 1, "strokeWidth": 2, "opacity": 1, "clip": false},
 "encoding": {"x": {"field": "x", "type": "quantitative", "axis": null}, "y": {"field": "y", "type": "quantitative", "axis": null}}},
{"data": {"name": "points"}, "transform": [{"filter": "datum.p == 'b' && datum.k == 'odiam'"}],
 "mark": {"type": "point", "shape": "diamond", "size": 170, "filled": false, "color": "#1e1e1e", "fill": "white", "fillOpacity": 1, "strokeWidth": 2, "opacity": 1, "clip": false},
 "encoding": {"x": {"field": "x", "type": "quantitative", "axis": null}, "y": {"field": "y", "type": "quantitative", "axis": null}}},
{"data": {"name": "points"}, "transform": [{"filter": "datum.p == 'b' && datum.k == 'tri'"}],
 "mark": {"type": "point", "shape": "triangle-up", "size": 170, "filled": true, "color": "#2e2e2e", "opacity": 1, "clip": false},
 "encoding": {"x": {"field": "x", "type": "quantitative", "axis": null}, "y": {"field": "y", "type": "quantitative", "axis": null}}},
{"data": {"name": "points"}, "transform": [{"filter": "datum.p == 'b' && datum.k == 'circ'"}],
 "mark": {"type": "point", "shape": "circle", "size": 140, "filled": true, "color": "#2e2e2e", "opacity": 1, "clip": false},
 "encoding": {"x": {"field": "x", "type": "quantitative", "axis": null}, "y": {"field": "y", "type": "quantitative", "axis": null}}},
{"data": {"name": "points"}, "transform": [{"filter": "datum.p == 'b' && datum.k == 'diam'"}],
 "mark": {"type": "point", "shape": "diamond", "size": 170, "filled": true, "color": "#2e2e2e", "opacity": 1, "clip": false},
 "encoding": {"x": {"field": "x", "type": "quantitative", "axis": null}, "y": {"field": "y", "type": "quantitative", "axis": null}}},
{"data": {"name": "leaders"}, "transform": [{"filter": "datum.p == 'b'"}],
 "mark": {"type": "rule", "color": "#1e1e1e", "strokeWidth": 2},
 "encoding": {"x": {"field": "x", "type": "quantitative", "axis": null}, "y": {"field": "y", "type": "quantitative", "axis": null}, "x2": {"field": "x2"}, "y2": {"field": "y2"}}},
{"data": {"name": "tips"}, "transform": [{"filter": "datum.p == 'b'"}],
 "mark": {"type": "point", "shape": "triangle-right", "size": 110, "filled": true, "color": "#1e1e1e", "opacity": 1},
 "encoding": {"x": {"field": "x", "type": "quantitative", "axis": null}, "y": {"field": "y", "type": "quantitative", "axis": null}, "angle": {"field": "ang", "type": "quantitative", "scale": null}}},
{"data": {"name": "notes"}, "transform": [{"filter": "datum.p == 'b' && datum.g == 'head'"}],
 "mark": {"type": "text", "font": "Liberation Serif", "fontSize": 37, "align": "left", "baseline": "middle", "color": "#1e1e1e"},
 "encoding": {"x": {"field": "x", "type": "quantitative", "axis": null}, "y": {"field": "y", "type": "quantitative", "axis": null}, "text": {"field": "t"}}},
{"data": {"name": "notes"}, "transform": [{"filter": "datum.p == 'b' && datum.g == 'ft'"}],
 "mark": {"type": "text", "font": "Liberation Serif", "fontSize": 29, "align": "left", "baseline": "middle", "color": "#1e1e1e"},
 "encoding": {"x": {"field": "x", "type": "quantitative", "axis": null}, "y": {"field": "y", "type": "quantitative", "axis": null}, "text": {"field": "t"}}},
{"data": {"name": "notes"}, "transform": [{"filter": "datum.p == 'b' && datum.g == 'visc'"}],
 "mark": {"type": "text", "font": "Liberation Serif", "fontSize": 28, "align": "left", "baseline": "middle", "color": "#1e1e1e"},
 "encoding": {"x": {"field": "x", "type": "quantitative", "axis": null}, "y": {"field": "y", "type": "quantitative", "axis": null}, "text": {"field": "t"}}},
{"data": {"name": "notes"}, "transform": [{"filter": "datum.p == 'b' && datum.g == 'cond'"}],
 "mark": {"type": "text", "font": "Liberation Serif", "fontSize": 37, "align": "right", "baseline": "middle", "color": "#1e1e1e"},
 "encoding": {"x": {"field": "x", "type": "quantitative", "axis": null}, "y": {"field": "y", "type": "quantitative", "axis": null}, "text": {"field": "t"}}},
{"data": {"name": "notes"}, "transform": [{"filter": "datum.p == 'b' && datum.g == 'phead'"}],
 "mark": {"type": "text", "font": "Liberation Serif", "fontSize": 30, "align": "center", "baseline": "middle", "color": "#1e1e1e"},
 "encoding": {"x": {"field": "x", "type": "quantitative", "axis": null}, "y": {"field": "y", "type": "quantitative", "axis": null}, "text": {"field": "t"}}},
{"data": {"name": "notes"}, "transform": [{"filter": "datum.p == 'b' && datum.g == 'pval'"}],
 "mark": {"type": "text", "font": "Liberation Serif", "fontSize": 29, "align": "right", "baseline": "middle", "color": "#1e1e1e"},
 "encoding": {"x": {"field": "x", "type": "quantitative", "axis": null}, "y": {"field": "y", "type": "quantitative", "axis": null}, "text": {"field": "t"}}}
]
}
]
}
